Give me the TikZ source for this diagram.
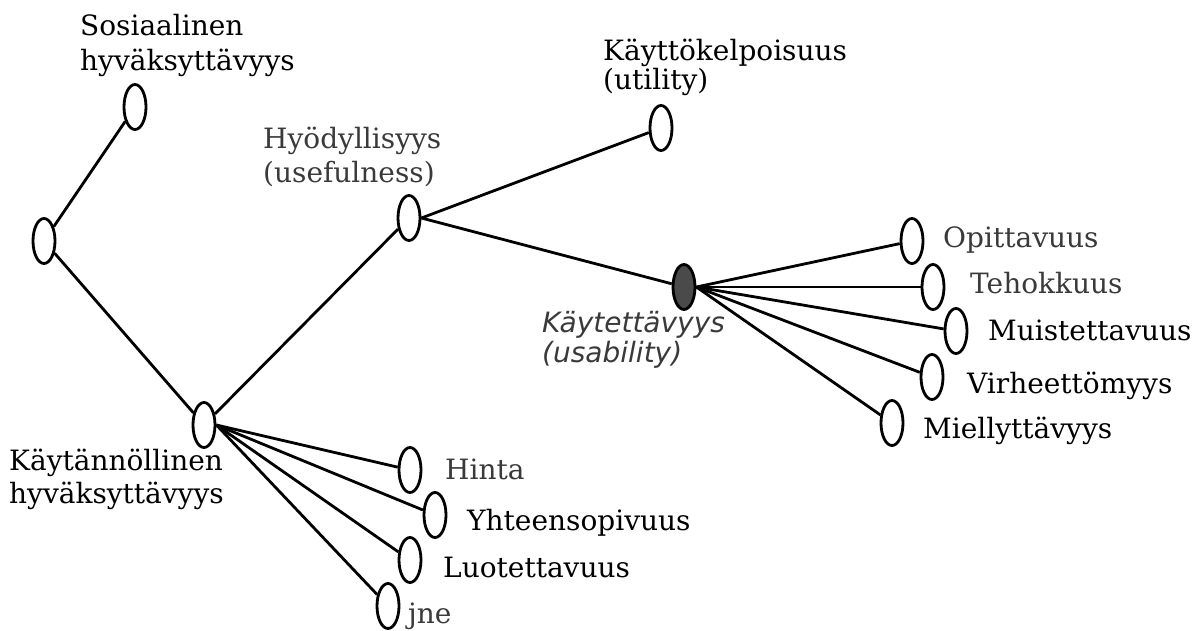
\documentclass[tikz,border=0pt]{standalone}
\usepackage{fontspec}
\setmainfont{DejaVu Serif}
\newfontfamily\labsans{DejaVu Sans}
\usetikzlibrary{shapes.geometric}
\definecolor{softtext}{HTML}{3A3A3A}
\definecolor{darkfill}{HTML}{4A4A4A}
\begin{document}
\begin{tikzpicture}[x=1pt,y=-1pt,
  oval/.style={draw=black,ellipse,line width=2.8pt,minimum width=22pt,minimum height=45pt,inner sep=0pt,fill=white},
  darkoval/.style={oval,fill=darkfill},
  conn/.style={draw=black,line width=2.8pt},
  lbl/.style={inner sep=0pt,anchor=base west,align=left,text=black,font=\fontsize{28}{34}\selectfont},
  softlbl/.style={lbl,text=softtext},
  usab/.style={lbl,text=softtext,font=\labsans\itshape\fontsize{28}{30}\selectfont}]
\useasboundingbox[fill=white] (0,0) rectangle (1199,630);
% ellipses
\node[oval] (root) at (44,241) {};
\node[oval] (sos) at (135,107) {};
\node[oval] (kp) at (204,425) {};
\node[oval] (hy) at (409,218) {};
\node[oval] (util) at (661,128) {};
\node[darkoval] (us) at (684,287) {};
\node[oval] (opi) at (912,241) {};
\node[oval] (teh) at (933,287) {};
\node[oval] (mui) at (956,331) {};
\node[oval] (vir) at (932,377) {};
\node[oval] (mie) at (892,423) {};
\node[oval] (hin) at (410,470) {};
\node[oval] (yht) at (435,515) {};
\node[oval] (luo) at (410,560) {};
\node[oval] (jne) at (388,606) {};
% connectors
\draw[conn] (root) -- (sos);
\draw[conn] (root) -- (kp);
\draw[conn] (kp) -- (hy);
\draw[conn] (hy.east) -- (util);
\draw[conn] (hy.east) -- (us);
\foreach \t in {opi,teh,mui,vir,mie} \draw[conn] (us.east) -- (\t);
\foreach \t in {hin,yht,luo,jne} \draw[conn] (kp.east) -- (\t);
% labels (base anchor = baseline of the last line)
\node[lbl,font=\fontsize{28}{35}\selectfont] (tsos) at (80,70) {Sosiaalinen\\hyväksyttävyys};
\node[lbl,font=\fontsize{28}{29}\selectfont] (tutil) at (603,89) {Käyttökelpoisuus\\(utility)};
\node[softlbl] (thy) at (263,182) {Hyödyllisyys\\(usefulness)};
\node[lbl,font=\fontsize{28}{33}\selectfont] (tkp) at (9,503) {Käytännöllinen\\hyväksyttävyys};
\node[usab] (tus) at (542,362) {Käytettävyys\\(usability)};
\node[softlbl] (topi) at (943,247) {Opittavuus};
\node[softlbl] (tteh) at (970,293) {Tehokkuus};
\node[lbl] (tmui) at (988,340) {Muistettavuus};
\node[lbl] (tvir) at (967,393) {Virheettömyys};
\node[lbl] (tmie) at (923,438) {Miellyttävyys};
\node[softlbl] (thin) at (445,479) {Hinta};
\node[lbl] (tyht) at (467,530) {Yhteensopivuus};
\node[lbl] (tluo) at (443,577) {Luotettavuus};
\node[softlbl] (tjne) at (408,623) {jne};
\end{tikzpicture}
\end{document}
